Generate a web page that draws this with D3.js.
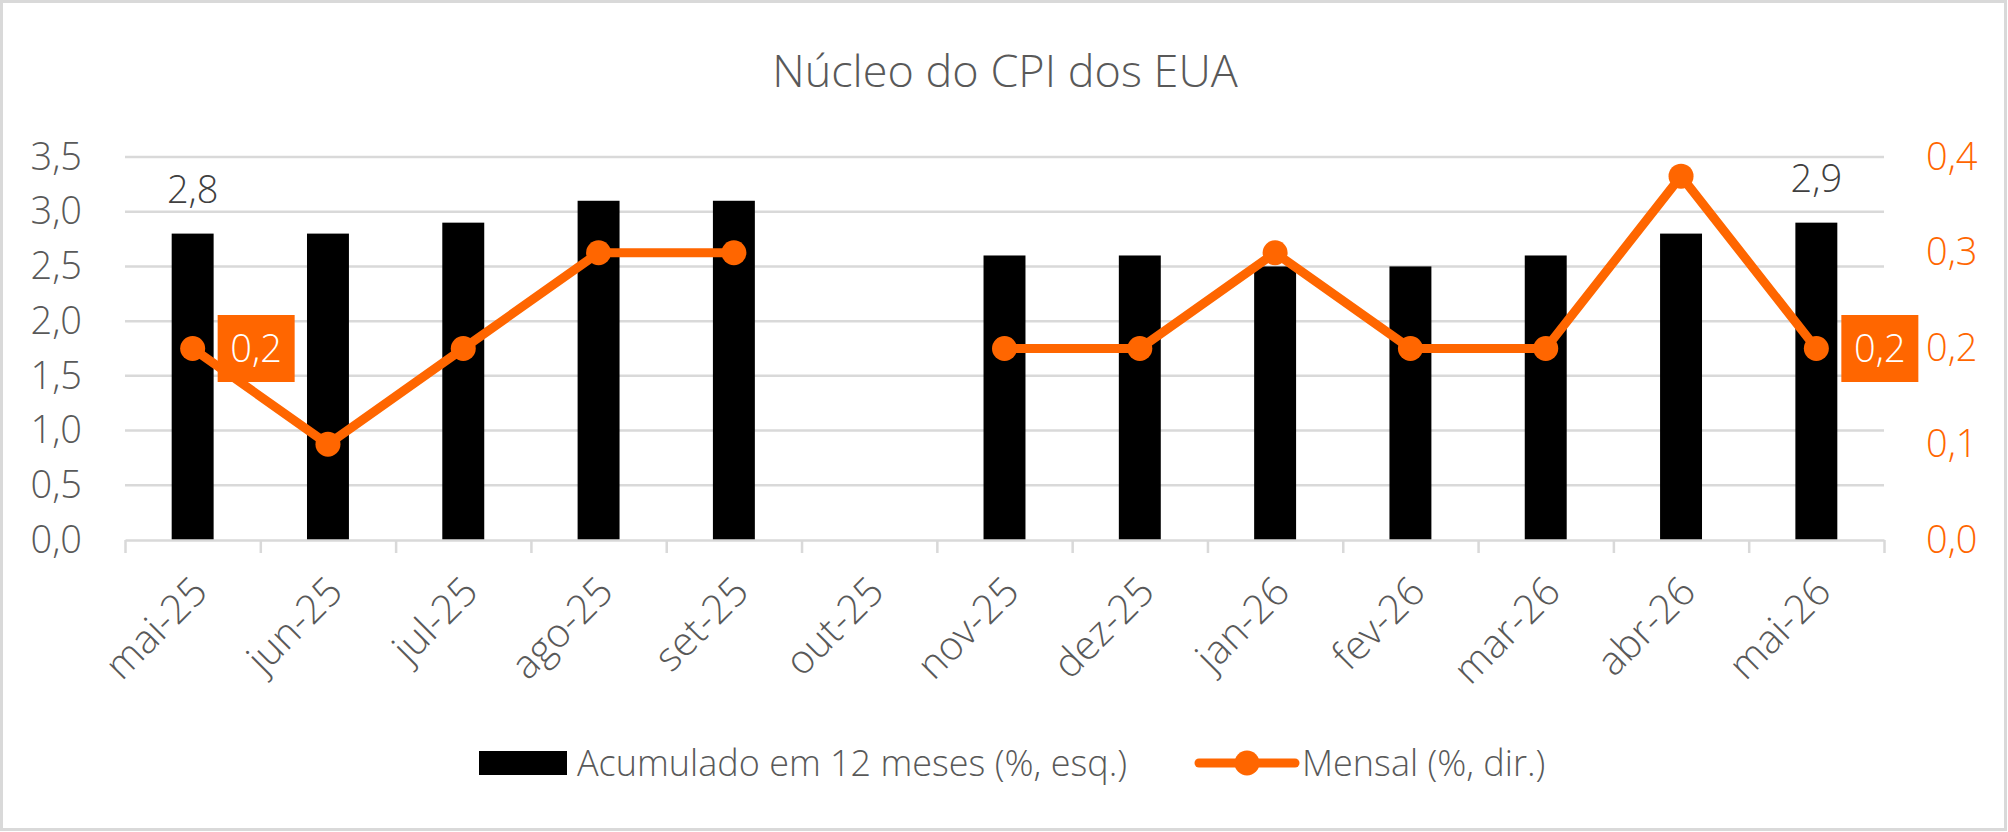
<!DOCTYPE html>
<html>
<head>
<meta charset="utf-8">
<script src="https://cdn.jsdelivr.net/npm/d3@7"></script>
<style>
  html, body { margin: 0; padding: 0; background: #fff; }
  svg { display: block; font-family: "Segoe UI", "Open Sans", sans-serif; font-weight: 300; }
</style>
</head>
<body>
<div id="chart"></div>
<script>
// data
const months = ["mai-25", "jun-25", "jul-25", "ago-25", "set-25", "out-25", "nov-25",
  "dez-25", "jan-26", "fev-26", "mar-26", "abr-26", "mai-26"];
const acumulado = [2.8, 2.8, 2.9, 3.1, 3.1, null, 2.6, 2.6, 2.5, 2.5, 2.6, 2.8, 2.9];
const mensal = [0.2, 0.1, 0.2, 0.3, 0.3, null, 0.2, 0.2, 0.3, 0.2, 0.2, 0.38, 0.2];
const leftTicks = [0, 0.5, 1, 1.5, 2, 2.5, 3, 3.5];
const rightTicks = [0, 0.1, 0.2, 0.3, 0.4];
const title = "Núcleo do CPI dos EUA";
const legendBar = "Acumulado em 12 meses (%, esq.)";
const legendLine = "Mensal (%, dir.)";

const width = 2008, height = 832;
const margin = {top: 157, right: 124, bottom: 292, left: 125};
const orange = "#ff6600", grid = "#d9d9d9", txt = "#595959";

const br = d3.formatLocale({decimal: ",", thousands: ".", grouping: [3], currency: ["", ""]});
const f1 = br.format(".1f");

const data = months.map((m, i) => ({m, bar: acumulado[i], line: mensal[i]}));

const x = d3.scaleBand()
  .domain(months)
  .range([margin.left, width - margin.right])
  .paddingInner(0.69)
  .paddingOuter(0.345);
const cx = m => x(m) + x.bandwidth() / 2;

const xEdge = d3.scaleLinear()
  .domain([0, months.length])
  .range([margin.left, width - margin.right]);

const y = d3.scaleLinear().domain([0, 3.5]).range([height - margin.bottom, margin.top]);
const y2 = d3.scaleLinear().domain([0, 0.4]).range([height - margin.bottom, margin.top]);

const svg = d3.select("#chart").append("svg")
  .attr("width", width).attr("height", height)
  .attr("viewBox", [0, 0, width, height]);

svg.append("rect")
  .attr("x", 1.5).attr("y", 1.5)
  .attr("width", width - 4).attr("height", height - 4)
  .attr("fill", "#fff").attr("stroke", grid).attr("stroke-width", 3);

svg.append("text")
  .attr("x", 1005).attr("y", 87)
  .attr("text-anchor", "middle")
  .attr("font-size", 45).attr("fill", txt)
  .text(title);

// gridlines
svg.append("g")
  .selectAll("line")
  .data(leftTicks.filter(d => d > 0))
  .join("line")
    .attr("x1", margin.left).attr("x2", width - margin.right)
    .attr("y1", d => y(d)).attr("y2", d => y(d))
    .attr("stroke", grid).attr("stroke-width", 2.5);

// left axis
svg.append("g")
  .attr("transform", `translate(${margin.left - 43},0)`)
  .call(d3.axisLeft(y).tickValues(leftTicks).tickFormat(f1).tickSize(0))
  .attr("font-family", null).attr("font-size", 38)
  .call(g => g.select(".domain").remove())
  .call(g => g.selectAll("text").attr("fill", txt).attr("x", 0));

// right axis
svg.append("g")
  .attr("transform", `translate(${width - margin.right + 42},0)`)
  .call(d3.axisRight(y2).tickValues(rightTicks).tickFormat(f1).tickSize(0))
  .attr("font-family", null).attr("font-size", 38)
  .call(g => g.select(".domain").remove())
  .call(g => g.selectAll("text").attr("fill", orange).attr("x", 0));

// bars
svg.append("g")
  .selectAll("rect")
  .data(data.filter(d => d.bar != null))
  .join("rect")
    .attr("x", d => x(d.m))
    .attr("y", d => y(d.bar))
    .attr("width", x.bandwidth())
    .attr("height", d => y(0) - y(d.bar))
    .attr("fill", "#000");

// bottom axis (category edges)
svg.append("g")
  .attr("transform", `translate(0,${y(0)})`)
  .call(d3.axisBottom(xEdge).tickValues(d3.range(months.length + 1)).tickFormat("").tickSize(13).tickSizeOuter(0))
  .call(g => g.selectAll("line, path").attr("stroke", grid).attr("stroke-width", 2.5));

svg.append("g")
  .selectAll("text")
  .data(months)
  .join("text")
    .attr("transform", d => `translate(${cx(d) + 7},${y(0) + 44}) rotate(-45)`)
    .attr("text-anchor", "end")
    .attr("dy", "0.35em")
    .attr("font-size", 40).attr("fill", txt)
    .text(d => d);

// line
const line = d3.line()
  .defined(d => d.line != null)
  .x(d => cx(d.m))
  .y(d => y2(d.line));

svg.append("path")
  .datum(data)
  .attr("d", line)
  .attr("fill", "none")
  .attr("stroke", orange)
  .attr("stroke-width", 9)
  .attr("stroke-linejoin", "round");

svg.append("g")
  .selectAll("circle")
  .data(data.filter(d => d.line != null))
  .join("circle")
    .attr("cx", d => cx(d.m))
    .attr("cy", d => y2(d.line))
    .attr("r", 12.5)
    .attr("fill", orange);

// data labels: first and last
const ends = [data[0], data[data.length - 1]];

svg.append("g")
  .selectAll("text")
  .data(ends)
  .join("text")
    .attr("x", d => cx(d.m))
    .attr("y", d => y(d.bar) - 31)
    .attr("text-anchor", "middle")
    .attr("font-size", 38).attr("fill", "#404040")
    .text(d => f1(d.bar));

const lab = svg.append("g")
  .selectAll("g")
  .data(ends)
  .join("g")
    .attr("transform", d => `translate(${cx(d.m) + 25},${y2(d.line)})`);
lab.append("rect")
  .attr("x", 0).attr("y", -33.5)
  .attr("width", 77).attr("height", 67)
  .attr("fill", orange);
lab.append("text")
  .attr("x", 38.5).attr("dy", "0.35em")
  .attr("text-anchor", "middle")
  .attr("font-size", 38).attr("fill", "#fff")
  .text(d => f1(d.line));

// legend
const lg = svg.append("g").attr("font-size", 36).attr("fill", txt);
lg.append("rect").attr("x", 479).attr("y", 751).attr("width", 88).attr("height", 24).attr("fill", "#000");
lg.append("text").attr("x", 577).attr("y", 763).attr("dy", "0.35em").text(legendBar);
lg.append("line").attr("x1", 1199).attr("x2", 1295).attr("y1", 763).attr("y2", 763)
  .attr("stroke", orange).attr("stroke-width", 9).attr("stroke-linecap", "round");
lg.append("circle").attr("cx", 1247).attr("cy", 763).attr("r", 12.5).attr("fill", orange);
lg.append("text").attr("x", 1302).attr("y", 763).attr("dy", "0.35em").text(legendLine);
</script>
</body>
</html>
